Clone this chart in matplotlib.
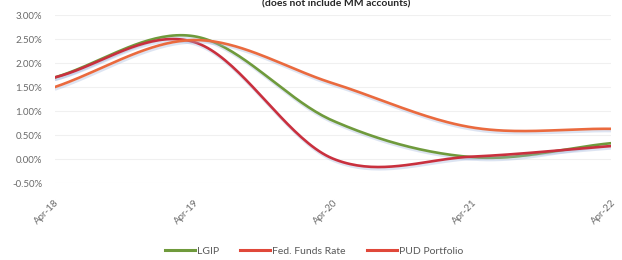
import numpy as np
import matplotlib
matplotlib.use("Agg")
import matplotlib.pyplot as plt
import matplotlib.patheffects as pe

# chart data
dates = ["Apr-18", "Apr-19", "Apr-20", "Apr-21", "Apr-22"]
lgip = [1.70, 2.56, 0.80, 0.04, 0.33]
fed_funds = [1.70, 2.44, 0.01, 0.05, 0.27]
pud_portfolio = [1.50, 2.48, 1.58, 0.66, 0.63]

series_names = ["LGIP", "Fed. Funds Rate", "PUD Portfolio"]
colors = ["#6f9a3c", "#c9303e", "#ea6a3e"]
legend_colors = ["#6f9a3c", "#e0483a", "#e0483a"]


# Excel-style smoothed line (Catmull-Rom between the points)
def smooth(y, steps=40):
    y = np.asarray(y, dtype=float)
    n = len(y)
    xs, ys = [], []
    for i in range(n - 1):
        p0 = y[i - 1] if i > 0 else y[i]
        p3 = y[i + 2] if i + 2 < n else y[i + 1]
        m1 = (y[i + 1] - p0) / (2 if i > 0 else 1)
        m2 = (p3 - y[i]) / (2 if i + 2 < n else 1)
        t = np.linspace(0, 1, steps, endpoint=(i == n - 2))
        h00 = 2 * t**3 - 3 * t**2 + 1
        h10 = t**3 - 2 * t**2 + t
        h01 = -2 * t**3 + 3 * t**2
        h11 = t**3 - t**2
        xs.append(i + t)
        ys.append(h00 * y[i] + h10 * m1 + h01 * y[i + 1] + h11 * m2)
    return np.concatenate(xs), np.concatenate(ys)


plt.rcParams["font.family"] = ["Lato", "DejaVu Sans"]

fig = plt.figure(figsize=(6.22, 2.60), dpi=100)
ax = fig.add_axes([0.088, 0.296, 0.894, 0.646])

shadow = [pe.SimpleLineShadow(offset=(0.6, -1.6), shadow_color="#9fb4dc", alpha=0.35),
          pe.Normal()]

# draw the portfolio first so the others sit on top
order = [2, 0, 1]
all_series = [lgip, fed_funds, pud_portfolio]
for k in order:
    xs, ys = smooth(all_series[k])
    ax.plot(xs, ys, color=colors[k], lw=1.9, solid_capstyle="round",
            path_effects=shadow, zorder=3 + k)

ax.set_ylim(-0.5, 3.0)
ax.set_xlim(0, len(dates) - 1)
ax.set_yticks(np.arange(-0.5, 3.01, 0.5))
ax.set_yticklabels([f"{v:.2f}%" for v in np.arange(-0.5, 3.01, 0.5)])
ax.set_xticks(range(len(dates)))
ax.set_xticklabels(dates, rotation=45, ha="right", rotation_mode="anchor")

ax.grid(axis="y", color="#f0f0f0", lw=0.8)
ax.set_axisbelow(True)
for s in ax.spines.values():
    s.set_visible(False)
ax.tick_params(length=0, labelsize=7, colors="#6a6a6a")
ax.tick_params(axis="y", pad=9)
ax.tick_params(axis="x", pad=11)

fig.text(0.54, 0.985, "(does not include MM accounts)", ha="center", va="center",
         fontsize=7.5, fontweight="bold", color="#262626")

handles = [plt.Line2D([], [], color=legend_colors[k], lw=2.2) for k in range(3)]
fig.legend(handles, series_names, loc="center", bbox_to_anchor=(0.505, 0.035),
           ncol=3, frameon=False, fontsize=7.5, handlelength=2.9,
           handletextpad=0.2, columnspacing=2.0, labelcolor="#595959")

fig.savefig("out.png", dpi=100)
